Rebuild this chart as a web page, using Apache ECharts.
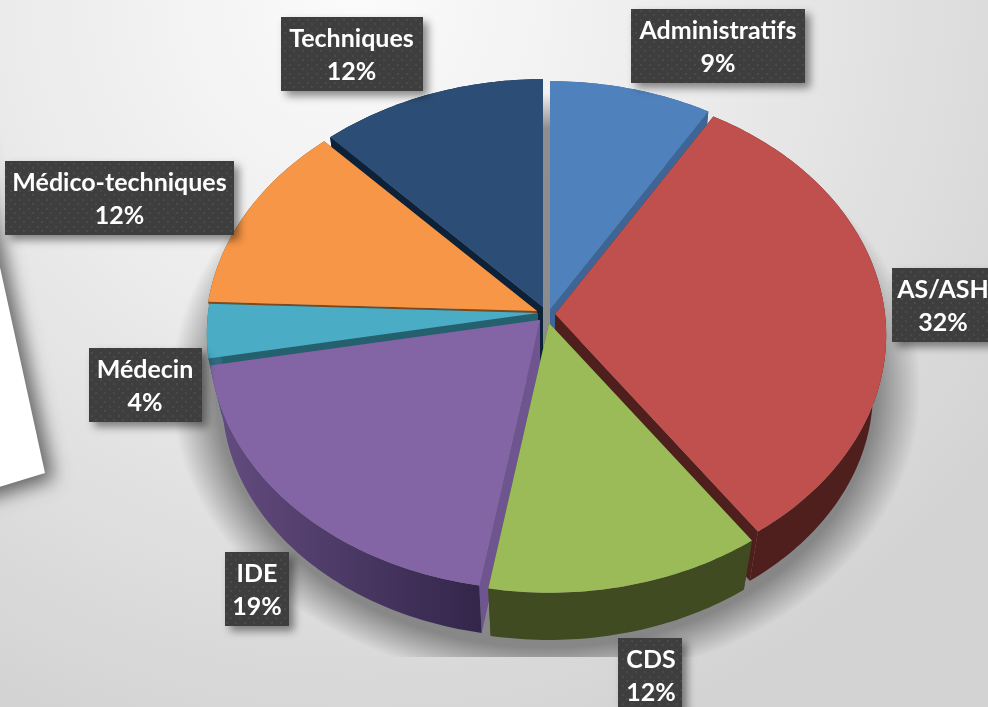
<!DOCTYPE html>
<html>
<head>
<meta charset="utf-8">
<title>Répartition</title>
<script src="https://cdn.jsdelivr.net/npm/echarts@6/dist/echarts.min.js"></script>
<style>
  * { margin: 0; padding: 0; }
  html, body { background: #e4e4e4; overflow: hidden; }
  #chart-container { width: 988px; height: 707px; }
</style>
</head>
<body>
<div id="chart-container"></div>
<script>
  var categories = ['Administratifs', 'AS/ASH', 'CDS', 'IDE', 'Médecin', 'Médico-techniques', 'Techniques']
  var shares = [8.6, 31.7, 12.4, 19.4, 3.5, 12.4, 12.0]

  var topColors = ['#4f81bd', '#c0504d', '#9bbb59', '#8364a5', '#4bacc6', '#f79646', '#2c4d75']
  var wallColors = ['#3d6697', '#4f1f1d', '#414b21', '#4a3865', '#2b6c7e', '#7d4a1f', '#0d2238']
  var cutColors = ['#3d6697', '#4f1f1d', '#414b21', '#6f5590', '#25606f', '#7a4a1e', '#0d2238']

  // layout of the exploded pie, per slice: apex of the wedge
  var apexes = [[550, 309], [555, 314], [549, 323], [540, 320], [538, 313], [537, 311], [543, 307]]
  var labelBoxes = [
    [631, 9, 174, 718],
    [892, 268, 100, 943],
    [618, 638, 64, 651],
    [225, 552, 64, 257],
    [89, 348, 113, 145],
    [5, 161, 229, 119.5],
    [281, 17, 142, 351.5]
  ]
  var paintOrder = [6, 0, 5, 4, 1, 3, 2]
  var rx = 330
  var ry = 247
  var tilt = 0.0843
  var depth = 58
  var bottomScale = 0.96

  var total = shares.reduce(function (a, b) { return a + b }, 0)

  function rimPoint(apex, deg, scale, drop) {
    var t = deg * Math.PI / 180
    var u = Math.sin(t)
    var v = -Math.cos(t)
    var s = 1 / (1 - tilt * v)
    return [apex[0] + rx * u * s * scale, apex[1] + ry * v * s * scale + drop]
  }

  function dotPattern() {
    var c = document.createElement('canvas')
    c.width = 9
    c.height = 9
    var g = c.getContext('2d')
    g.fillStyle = '#3e3e3e'
    g.fillRect(0, 0, 9, 9)
    g.fillStyle = '#4a4a4a'
    g.fillRect(1, 1, 2, 2)
    g.fillRect(5, 5, 2, 2)
    return c
  }
  var labelFill = { image: dotPattern(), repeat: 'repeat' }

  function renderSlice(params, api) {
    var i = params.dataIndex
    var before = 0
    for (var k = 0; k < i; k++) before += shares[k]
    var a0 = before / total * 360
    var a1 = a0 + api.value(1) / total * 360
    var apex = apexes[i]
    var apexLow = [apex[0], apex[1] + depth]
    var base = paintOrder.indexOf(i) * 10

    var top = [apex]
    var wall = []
    var wallLow = []
    for (var a = a0; a < a1; a += 1) {
      top.push(rimPoint(apex, a, 1, 0))
      wall.push(rimPoint(apex, a, 1, 0))
      wallLow.unshift(rimPoint(apex, a, bottomScale, depth))
    }
    var p0 = rimPoint(apex, a0, 1, 0)
    var p1 = rimPoint(apex, a1, 1, 0)
    var q0 = rimPoint(apex, a0, bottomScale, depth)
    var q1 = rimPoint(apex, a1, bottomScale, depth)
    top.push(p1)
    wall.push(p1)
    wallLow.unshift(q1)

    var wallFill = wallColors[i]
    if (categories[i] === 'IDE') {
      wallFill = new echarts.graphic.LinearGradient(215, 0, 480, 0, [
        { offset: 0, color: '#644c80' },
        { offset: 1, color: '#33264a' }
      ], true)
    }

    var box = labelBoxes[i]
    return {
      type: 'group',
      children: [
        { type: 'polygon', z2: base, shape: { points: [apex, p0, q0, apexLow] }, style: { fill: cutColors[i] } },
        { type: 'polygon', z2: base, shape: { points: [apex, p1, q1, apexLow] }, style: { fill: cutColors[i] } },
        { type: 'polygon', z2: base + 1, shape: { points: wall.concat(wallLow) }, style: { fill: wallFill } },
        { type: 'polygon', z2: base + 2, shape: { points: top }, style: { fill: topColors[i] } },
        {
          type: 'rect',
          z2: 100,
          shape: { x: box[0], y: box[1], width: box[2], height: 74 },
          style: {
            fill: labelFill,
            shadowBlur: 8,
            shadowOffsetX: 5,
            shadowOffsetY: 5,
            shadowColor: 'rgba(0,0,0,0.45)'
          }
        },
        {
          type: 'text',
          z2: 101,
          style: {
            text: categories[i] + '\n' + Math.round(api.value(1)) + '%',
            x: box[3],
            y: box[1] + 38,
            align: 'center',
            verticalAlign: 'middle',
            fill: '#ffffff',
            font: 'bold 25px Lato',
            lineHeight: 33
          }
        }
      ]
    }
  }

  var bgGradient = function () {
    return new echarts.graphic.RadialGradient(360, 0, 780, [
      { offset: 0, color: '#fbfbfb' },
      { offset: 0.45, color: '#ebebeb' },
      { offset: 1, color: '#d3d3d3' }
    ], true)
  }

  var myChart = echarts.init(document.getElementById('chart-container'), null, { renderer: 'canvas' })
  myChart.setOption({
    animation: false,
    graphic: [
      { type: 'rect', z: 0, z2: 0, shape: { x: 0, y: 0, width: 988, height: 707 }, style: { fill: bgGradient() } },
      {
        type: 'polygon',
        z: 0,
        z2: 1,
        shape: { points: [[-30, 130], [45, 473], [-30, 496]] },
        style: { fill: '#ffffff', shadowBlur: 18, shadowOffsetX: 9, shadowOffsetY: 6, shadowColor: 'rgba(0,0,0,0.55)' }
      },
      {
        // soft shadow below the pie, circle stretched to an ellipse
        type: 'circle',
        z: 0,
        z2: 2,
        x: 546,
        y: 388,
        scaleX: 3.75,
        scaleY: 2.95,
        shape: { cx: 0, cy: 0, r: 100 },
        style: {
          fill: new echarts.graphic.RadialGradient(0.5, 0.5, 0.5, [
            { offset: 0, color: 'rgba(100,100,100,0.7)' },
            { offset: 0.88, color: 'rgba(100,100,100,0.7)' },
            { offset: 1, color: 'rgba(100,100,100,0)' }
          ])
        }
      },
      { type: 'rect', z: 0, z2: 3, shape: { x: 0, y: 657, width: 988, height: 50 }, style: { fill: bgGradient() } }
    ],
    series: [
      {
        type: 'custom',
        coordinateSystem: 'none',
        silent: true,
        renderItem: renderSlice,
        data: categories.map(function (name, i) { return [name, shares[i]] })
      }
    ]
  })
</script>
</body>
</html>
